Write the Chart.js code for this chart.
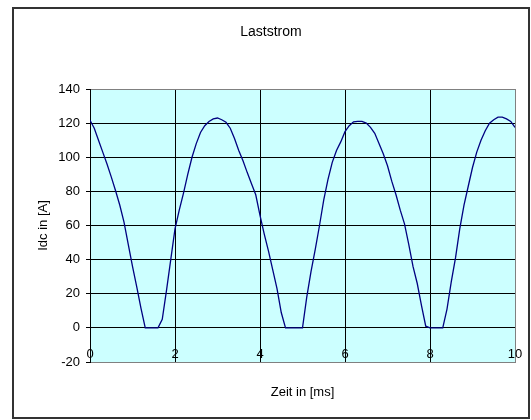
<!DOCTYPE html>
<html>
<head>
<meta charset="utf-8">
<title>Laststrom</title>
<script src="https://cdn.jsdelivr.net/npm/chart.js@4.4.1/dist/chart.umd.min.js"></script>
<style>
  html, body { margin: 0; padding: 0; background: #fff; }
  canvas { display: block; }
</style>
</head>
<body>
<canvas id="laststrom" width="531" height="420"></canvas>
<script>
// Laststrom Idc ueber der Zeit, Abtastung alle 0,1 ms
var zeitMs = [
  0.0, 0.1, 0.2, 0.3, 0.4, 0.5, 0.6, 0.7, 0.8, 0.9,
  1.0, 1.1, 1.2, 1.3, 1.4, 1.5, 1.6, 1.7, 1.8, 1.9,
  2.0, 2.1, 2.2, 2.3, 2.4, 2.5, 2.6, 2.7, 2.8, 2.9,
  3.0, 3.1, 3.2, 3.3, 3.4, 3.5, 3.6, 3.7, 3.8, 3.9,
  4.0, 4.1, 4.2, 4.3, 4.4, 4.5, 4.6, 4.7, 4.8, 4.9,
  5.0, 5.1, 5.2, 5.3, 5.4, 5.5, 5.6, 5.7, 5.8, 5.9,
  6.0, 6.1, 6.2, 6.3, 6.4, 6.5, 6.6, 6.7, 6.8, 6.9,
  7.0, 7.1, 7.2, 7.3, 7.4, 7.5, 7.6, 7.7, 7.8, 7.9,
  8.0, 8.1, 8.2, 8.3, 8.4, 8.5, 8.6, 8.7, 8.8, 8.9,
  9.0, 9.1, 9.2, 9.3, 9.4, 9.5, 9.6, 9.7, 9.8, 9.9,
  10.0
];
var idcA = [
  121.7, 117, 110, 103, 96, 88.5, 80.5, 72, 62, 49,
  36, 24, 11.5, 0, 0, 0, 0, 5, 22, 40,
  58, 69, 79, 90, 100, 108, 114.5, 118.5, 121, 122.5,
  123, 122, 120.5, 117, 111, 104, 98, 91, 84.5, 78,
  66, 55, 45, 34, 23, 9, 0, 0, 0, 0,
  0, 18, 33, 46, 60, 75, 87, 97, 104, 109,
  115, 118.5, 120.8, 121, 121, 120, 117.5, 114, 108, 102,
  95, 86, 78, 69, 61, 49, 36, 26, 13, 1,
  0, 0, 0, 0, 11, 27, 41, 58, 72, 83,
  94, 103, 110, 115.5, 120, 122, 123.5, 123.5, 122.5, 121,
  117.5
];

// Achsbereiche
var xMin = 0, xMax = 10, xStep = 2;
var yMin = -20, yMax = 140, yStep = 20;

var plotFill = '#CCFFFF';
var frameColor = '#333333';
var edgeGray = '#808080';

Chart.defaults.font.family = '"Liberation Sans", Arial, sans-serif';
Chart.defaults.color = '#000';

// weisser Hintergrund, tuerkise Zeichenflaeche und Rahmen ums Diagramm
var excelFrame = {
  id: 'excelFrame',
  beforeDraw: function(chart) {
    var ctx = chart.ctx, a = chart.chartArea;
    ctx.save();
    ctx.fillStyle = '#fff';
    ctx.fillRect(0, 0, chart.width, chart.height);
    ctx.fillStyle = plotFill;
    ctx.fillRect(a.left, a.top, a.right - a.left, a.bottom - a.top);
    ctx.lineWidth = 2;
    ctx.strokeStyle = frameColor;
    ctx.strokeRect(13, 8, 516, 410);
    ctx.restore();
  }
};

var punkte = zeitMs.map(function(t, i) { return { x: t, y: idcA[i] }; });

var chart = new Chart(document.getElementById('laststrom').getContext('2d'), {
  type: 'line',
  data: {
    datasets: [{
      label: 'Idc',
      data: punkte,
      borderColor: '#000080',
      borderWidth: 1.3,
      pointRadius: 0,
      tension: 0,
      fill: false
    }]
  },
  options: {
    responsive: false,
    animation: false,
    layout: { padding: { left: 13, right: 2, top: 8, bottom: 0 } },
    scales: {
      x: {
        type: 'linear',
        position: 'bottom',
        min: xMin,
        max: xMax,
        // Beschriftung innerhalb der Zeichenflaeche, knapp ueber dem unteren Rand
        ticks: { stepSize: xStep, mirror: true, padding: 0, font: { size: 13 }, maxRotation: 0 },
        grid: {
          drawTicks: false,
          lineWidth: 1,
          color: function(c) { return c.tick && c.tick.value === xMax ? edgeGray : '#000'; }
        },
        border: { color: edgeGray },
        title: { display: true, text: 'Zeit in [ms]', font: { size: 13 }, padding: { top: 0, bottom: 20 } },
        afterFit: function(s) { s.height = 58; }
      },
      y: {
        min: yMin,
        max: yMax,
        ticks: { stepSize: yStep, padding: 6, font: { size: 13 } },
        grid: {
          tickLength: 4,
          tickColor: '#000',
          lineWidth: 1,
          color: function(c) {
            var v = c.tick && c.tick.value;
            return (v === yMax || v === yMin) ? edgeGray : '#000';
          }
        },
        border: { color: '#000' },
        title: { display: true, text: 'Idc in [A]', font: { size: 13 }, padding: { top: 23, bottom: 0 } },
        afterFit: function(s) { s.width = 77; }
      },
      // leerer Rand rechts neben der Zeichenflaeche
      rechts: {
        type: 'linear',
        position: 'right',
        grid: { display: false },
        border: { display: false },
        ticks: { display: false },
        afterFit: function(s) { s.width = 14; }
      }
    },
    plugins: {
      legend: { display: false },
      tooltip: { enabled: false },
      title: {
        display: true,
        text: 'Laststrom',
        color: '#000',
        font: { size: 14, weight: 'normal' },
        padding: { top: 15.6, bottom: 48.6 }
      }
    }
  },
  plugins: [excelFrame]
});
</script>
</body>
</html>
